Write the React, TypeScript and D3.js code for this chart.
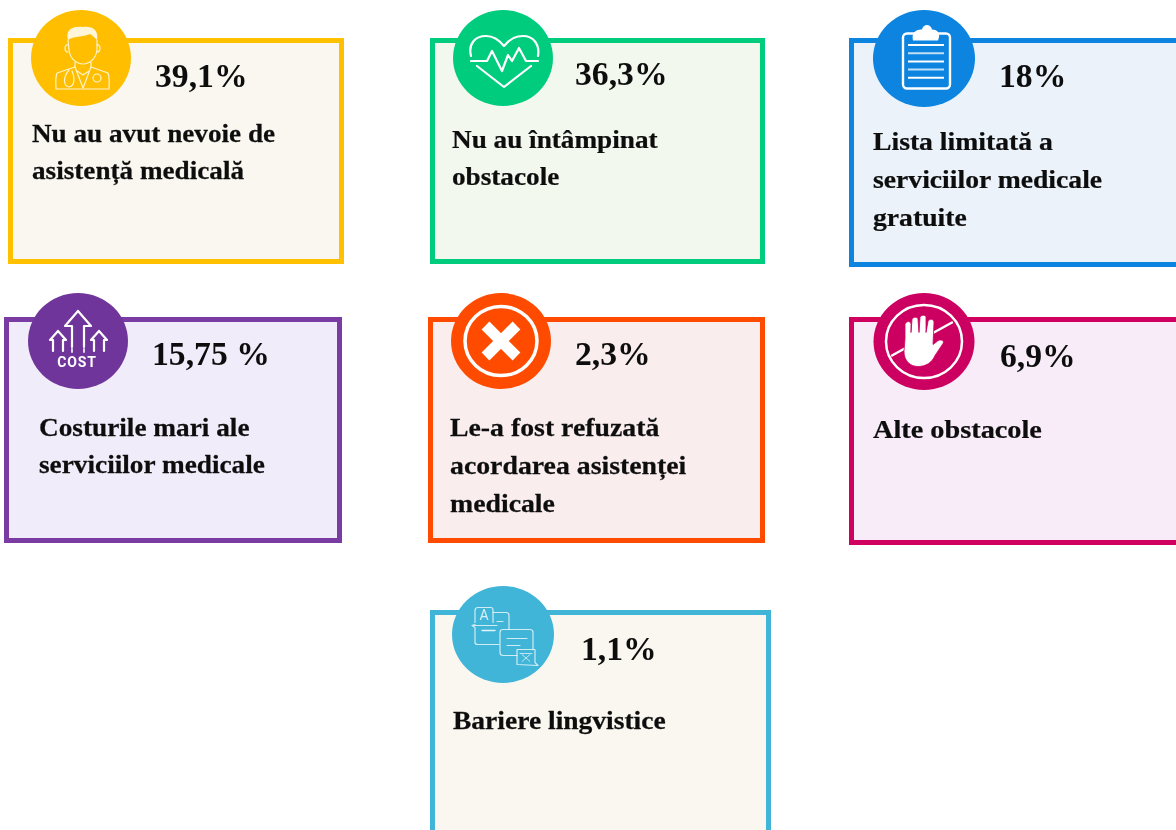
import React, { useEffect, useRef } from 'react';
import * as d3 from 'd3';

const percentLabels = ['39,1%', '36,3%', '18%', '15,75 %', '2,3%', '6,9%', '1,1%'];
const categoryLines = [
  ['Nu au avut nevoie de', 'asistență medicală'],
  ['Nu au întâmpinat', 'obstacole'],
  ['Lista limitată a', 'serviciilor medicale', 'gratuite'],
  ['Costurile mari ale', 'serviciilor medicale'],
  ['Le-a fost refuzată', 'acordarea asistenței', 'medicale'],
  ['Alte obstacole'],
  ['Bariere lingvistice'],
];
const borderColors = ['#ffc000', '#00cc7e', '#0a84e0', '#7a3ba3', '#ff4b00', '#cf0060', '#40b5d8'];
const circleColors = ['#ffbf00', '#00cc7e', '#0a84e0', '#70359a', '#ff4b00', '#cc0060', '#40b5d8'];
const fillColors = ['#faf7f0', '#f3f8ef', '#ebf2fa', '#f0ecf9', '#f9edee', '#f8ecf8', '#faf7f0'];
const iconNames = ['doctor', 'heart', 'clipboard', 'cost', 'cross', 'hand', 'translate'];

// layout of the cards, the source picture is not on a regular grid
const boxes = [
  { x0: 8, x1: 344, y0: 38, y1: 264 },
  { x0: 430, x1: 765, y0: 38, y1: 264 },
  { x0: 849, x1: 1182, y0: 38, y1: 267 },
  { x0: 4, x1: 342, y0: 317, y1: 543 },
  { x0: 428, x1: 765, y0: 317, y1: 543 },
  { x0: 849, x1: 1182, y0: 317, y1: 545 },
  { x0: 430, x1: 771, y0: 610, y1: 850 },
];
// source image is stretched a bit sideways, so the badges are ellipses
const badges = [
  { cx: 81, cy: 58, rx: 50, ry: 48 },
  { cx: 503, cy: 58, rx: 50, ry: 48 },
  { cx: 924, cy: 58.5, rx: 51, ry: 48.5 },
  { cx: 78, cy: 341, rx: 50, ry: 48 },
  { cx: 501, cy: 341, rx: 50, ry: 48 },
  { cx: 924, cy: 341.5, rx: 50.5, ry: 48.5 },
  { cx: 503, cy: 634.5, rx: 51, ry: 48.5 },
];
const valueAnchors = [
  { x: 155, y: 87 },
  { x: 575, y: 85 },
  { x: 999, y: 87 },
  { x: 152, y: 365 },
  { x: 575, y: 365 },
  { x: 1000, y: 367 },
  { x: 581, y: 660 },
];
const labelAnchors = [
  { x: 32, y: 142, step: 37, stretch: 1.066 },
  { x: 452, y: 148, step: 37, stretch: 1.067 },
  { x: 873, y: 150, step: 38, stretch: 1.085 },
  { x: 39, y: 436, step: 37, stretch: 1.07 },
  { x: 450, y: 436, step: 38, stretch: 1.09 },
  { x: 873, y: 438, step: 37, stretch: 1.11 },
  { x: 453, y: 729, step: 37, stretch: 1.08 },
];

type G = d3.Selection<SVGGElement, unknown, null, undefined>;

const line = (g: G, d: string, width = 1.2, opacity = 0.8) =>
  g.append('path')
    .attr('d', d)
    .attr('fill', 'none')
    .attr('stroke', '#fff')
    .attr('stroke-width', width)
    .attr('stroke-opacity', opacity)
    .attr('stroke-linejoin', 'round')
    .attr('stroke-linecap', 'round');

const icons: Record<string, (g: G, color: string) => void> = {
  doctor(g) {
    g.append('path')
      .attr('d', 'M-13,-18 C-16,-30 -6,-32 2,-31 C10,-32 18,-29 16,-18 C13,-21 11,-23 9,-24 C2,-21 -8,-22 -13,-18 Z')
      .attr('fill', '#fff')
      .attr('fill-opacity', 0.85);
    line(g, 'M-13,-18 L-12,-8 C-11,1 -4,6 2,6 C8,6 15,1 16,-8 L16,-18');
    line(g, 'M-13,-13 C-17,-14 -17,-6 -13,-6 M16,-13 C20,-14 20,-6 16,-6');
    line(g, 'M-6,4 L-6,9 L-24,15 C-26,20 -25,27 -25,31 L28,31 C28,27 29,20 27,15 L10,9 L10,4');
    line(g, 'M-6,9 L2,30 L10,9 M-4,13 L2,17 L8,13');
    line(g, 'M-12,12 C-18,19 -18,28 -12,29 C-6,28 -6,19 -9,13');
    g.append('circle').attr('cx', 16).attr('cy', 20).attr('r', 4)
      .attr('fill', 'none').attr('stroke', '#fff').attr('stroke-opacity', 0.8).attr('stroke-width', 1.2);
  },
  heart(g) {
    line(g, 'M-32,-2 C-35,-14 -28,-22 -17,-22 C-9,-22 -3,-17 1,-12 C5,-17 11,-22 20,-22 C30,-22 37,-14 35,-2', 2.2, 1);
    line(g, 'M-26,8 L1,29 L28,8', 2.2, 1);
    line(g, 'M-32,3 L-16,3 L-11,-7 L-1,13 L5,-3 L9,3 L16,-10 L23,3 L35,3', 2.2, 1);
  },
  clipboard(g) {
    g.append('rect').attr('x', -21).attr('y', -25).attr('width', 47).attr('height', 55).attr('rx', 4)
      .attr('fill', 'none').attr('stroke', '#fff').attr('stroke-width', 2.4);
    g.append('path').attr('d', 'M-11,-18 C-13,-27 -7,-29 -2,-29 C-1,-35 7,-35 8,-29 C14,-29 17,-25 14,-18 Z').attr('fill', '#fff');
    d3.range(5).forEach((i) => {
      line(g, `M-16,${-13.5 + i * 8.2} L20,${-13.5 + i * 8.2}`, 2, i % 2 ? 0.75 : 1).attr('stroke-linecap', 'butt');
    });
  },
  cost(g) {
    line(g, 'M0,-30 L-13,-15 L-6,-15 L-6,6 M0,-30 L13,-15 L6,-15 L6,6', 2.2, 1);
    line(g, 'M-6,8 L-6,11 M6,8 L6,11', 2, 0.8);
    [-20, 21].forEach((dx) => {
      line(g, `M${dx},-10 L${dx - 8},-1 L${dx - 5},-1 L${dx - 5},10 M${dx},-10 L${dx + 8},-1 L${dx + 5},-1 L${dx + 5},10`, 2.2, 1);
    });
    g.append('text').attr('x', -1).attr('y', 26)
      .attr('text-anchor', 'middle')
      .attr('font-family', 'Roboto, sans-serif').attr('font-weight', 700)
      .attr('font-size', 14).attr('letter-spacing', 0.8).attr('fill', '#fff')
      .text('COST');
  },
  cross(g) {
    g.append('ellipse').attr('rx', 36).attr('ry', 34.5).attr('fill', 'none').attr('stroke', '#fff').attr('stroke-width', 3.5);
    line(g, 'M-15.5,-15.5 L15.5,15.5 M15.5,-15.5 L-15.5,15.5', 11, 1).attr('stroke-linecap', 'butt');
  },
  hand(g, color) {
    g.append('ellipse').attr('rx', 38).attr('ry', 36.5).attr('fill', 'none').attr('stroke', '#fff').attr('stroke-width', 2.5);
    line(g, 'M-32,14 L28,-19', 2.5, 1);
    g.append('path')
      .attr('d', 'M-19,-3 L-19,-17 C-18,-21 -13,-21 -13,-17 L-13,-9 L-12,-22 C-11,-25 -6,-25 -6,-22 L-5,-9 L-4,-24 C-3,-27 2,-27 2,-24 L2,-9 L4,-20 C5,-23 10,-23 10,-19 L9,3 L13,0 C16,-3 21,-1 19,2 L11,14 C8,21 2,25 -6,25 C-14,25 -20,19 -20,10 Z')
      .attr('fill', '#fff')
      .attr('stroke', color)
      .attr('stroke-width', 0.8);
  },
  translate(g) {
    line(g, 'M-28,-12 L-28,-24 C-28,-26 -27,-27 -25,-27 L-12,-27 C-10,-27 -10,-26 -10,-24 L-10,-12', 1.2, 0.75);
    line(g, 'M-10,-22 L3,-22 C5,-22 6,-21 6,-19 L6,-5 M-6,-13 L0,-13', 1.2, 0.75);
    line(g, 'M-28,-10 L-31,-9 L-28,-7 L-28,8 C-28,10 -27,10 -25,10 L-4,10 M-31,-9 L-6,-9', 1.2, 0.75);
    line(g, 'M-21,-4 L-8,-4', 1.4, 0.85);
    line(g, 'M0,-5 L27,-5 C29,-5 30,-4 30,-2 L30,15 M0,-5 C-2,-5 -3,-4 -3,-2 L-3,18 C-3,20 -2,21 0,21 L14,21', 1.2, 0.75);
    line(g, 'M4,4 L24,4 M4,11 L17,11', 1.2, 0.75);
    line(g, 'M14,15 L32,15 L32,28 L35,31 L14,30 Z', 1.2, 0.75);
    line(g, 'M19,20 L27,27 M27,20 L19,27 M17,19 L29,19', 1, 0.65);
    g.append('text').attr('x', -19).attr('y', -14.5)
      .attr('text-anchor', 'middle').attr('font-family', 'Roboto, sans-serif')
      .attr('font-size', 14).attr('fill', '#fff').attr('fill-opacity', 0.8).text('A');
  },
};

export default function App() {
  const ref = useRef<SVGSVGElement>(null);

  useEffect(() => {
    const svg = d3.select(ref.current);
    svg.selectAll('*').remove();

    // the reference is a soft upscaled image
    svg.append('defs').append('filter')
      .attr('id', 'soft')
      .append('feGaussianBlur')
      .attr('stdDeviation', 0.7);

    const root = svg.append('g').attr('filter', 'url(#soft)');
    const indexes = d3.range(percentLabels.length);

    root.selectAll('rect.card')
      .data(indexes)
      .enter()
      .append('rect')
      .attr('class', 'card')
      .attr('x', (i) => boxes[i].x0 + 2.5)
      .attr('y', (i) => boxes[i].y0 + 2.5)
      .attr('width', (i) => boxes[i].x1 - boxes[i].x0 - 5)
      .attr('height', (i) => boxes[i].y1 - boxes[i].y0 - 5)
      .attr('fill', (i) => fillColors[i])
      .attr('stroke', (i) => borderColors[i])
      .attr('stroke-width', 5);

    root.selectAll('ellipse.badge')
      .data(indexes)
      .enter()
      .append('ellipse')
      .attr('class', 'badge')
      .attr('cx', (i) => badges[i].cx)
      .attr('cy', (i) => badges[i].cy)
      .attr('rx', (i) => badges[i].rx)
      .attr('ry', (i) => badges[i].ry)
      .attr('fill', (i) => circleColors[i]);

    indexes.forEach((i) => {
      const g = root.append('g').attr('transform', `translate(${badges[i].cx},${badges[i].cy})`);
      icons[iconNames[i]](g as unknown as G, circleColors[i]);
    });

    root.selectAll('text.value')
      .data(indexes)
      .enter()
      .append('text')
      .attr('class', 'value')
      .attr('transform', (i) => `translate(${valueAnchors[i].x},${valueAnchors[i].y}) scale(1.02,1)`)
      .attr('font-family', '"Liberation Serif", serif')
      .attr('font-weight', 700)
      .attr('font-size', 33)
      .attr('fill', '#111')
      .text((i) => percentLabels[i]);

    indexes.forEach((i) => {
      const a = labelAnchors[i];
      root.append('g')
        .selectAll('text')
        .data(categoryLines[i])
        .enter()
        .append('text')
        .attr('transform', (_, k) => `translate(${a.x},${a.y + k * a.step}) scale(${a.stretch},1)`)
        .attr('font-family', '"Liberation Serif", serif')
        .attr('font-weight', 700)
        .attr('font-size', 25.5)
        .attr('fill', '#111')
        .attr('stroke', '#111')
        .attr('stroke-width', 0.25)
        .text((d) => d);
    });
  }, []);

  return (
    <svg
      ref={ref}
      width={1176}
      height={830}
      style={{ position: 'absolute', left: 0, top: 0, display: 'block' }}
    />
  );
}
